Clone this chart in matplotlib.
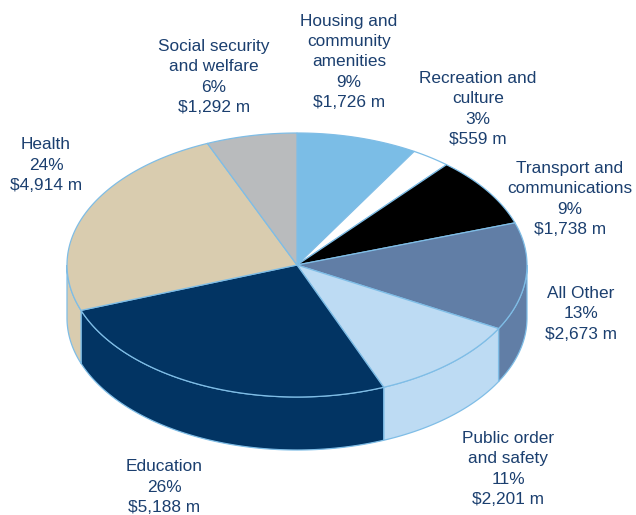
import matplotlib.pyplot as plt
import numpy as np
from matplotlib.patches import Polygon

# spending by function, $m, clockwise from the top
names = ["Housing and\ncommunity\namenities", "Recreation and\nculture",
         "Transport and\ncommunications", "All Other", "Public order\nand safety",
         "Education", "Health", "Social security\nand welfare"]
values = [1726, 559, 1738, 2673, 2201, 5188, 4914, 1292]
pcts = [9, 3, 9, 13, 11, 26, 24, 6]
colors = ["#7bbde6", "#ffffff", "#000000", "#617ea6", "#bddbf3",
          "#023463", "#d9ccaf", "#b9bbbd"]
# label centres (pixels)
label_pos = [(349, 62), (478, 109), (570, 199), (581, 314), (508, 469),
             (164, 487), (46, 165), (214, 77)]

edge = "#7fbde6"
txt = "#1b3f6f"

cx, cy, a, b, depth = 297, 265, 230, 132, 53

fig = plt.figure(figsize=(6.36, 5.15), dpi=100)
ax = fig.add_axes([0, 0, 1, 1])
ax.set_xlim(0, 636)
ax.set_ylim(515, 0)
ax.axis("off")

total = float(sum(values))
bounds = [90.0]
for v in values:
    bounds.append(bounds[-1] - v / total * 360.0)


def pt(th, dy=0.0):
    r = np.radians(th)
    return cx + a * np.cos(r), cy - b * np.sin(r) + dy


# side walls (front half only, theta in [-180, 0])
for i in range(len(values)):
    t0, t1 = bounds[i], bounds[i + 1]
    lo, hi = max(t1, -180.0), min(t0, 0.0)
    if hi <= lo:
        continue
    th = np.linspace(hi, lo, 80)
    top = [pt(t) for t in th]
    bot = [pt(t, depth) for t in th[::-1]]
    ax.add_patch(Polygon(top + bot, closed=True, facecolor=colors[i],
                         edgecolor=edge, linewidth=0.9))

# top faces
for i in range(len(values)):
    th = np.linspace(bounds[i], bounds[i + 1], 120)
    verts = [(cx, cy)] + [pt(t) for t in th]
    ax.add_patch(Polygon(verts, closed=True, facecolor=colors[i],
                         edgecolor=edge, linewidth=0.9))

for i in range(len(values)):
    s = "%s\n%d%%\n$%s m" % (names[i], pcts[i], format(values[i], ","))
    ax.text(label_pos[i][0], label_pos[i][1], s, ha="center", va="center",
            fontsize=12.4, color=txt, family="Liberation Sans",
            linespacing=1.42)

fig.savefig("out.png", dpi=100)
